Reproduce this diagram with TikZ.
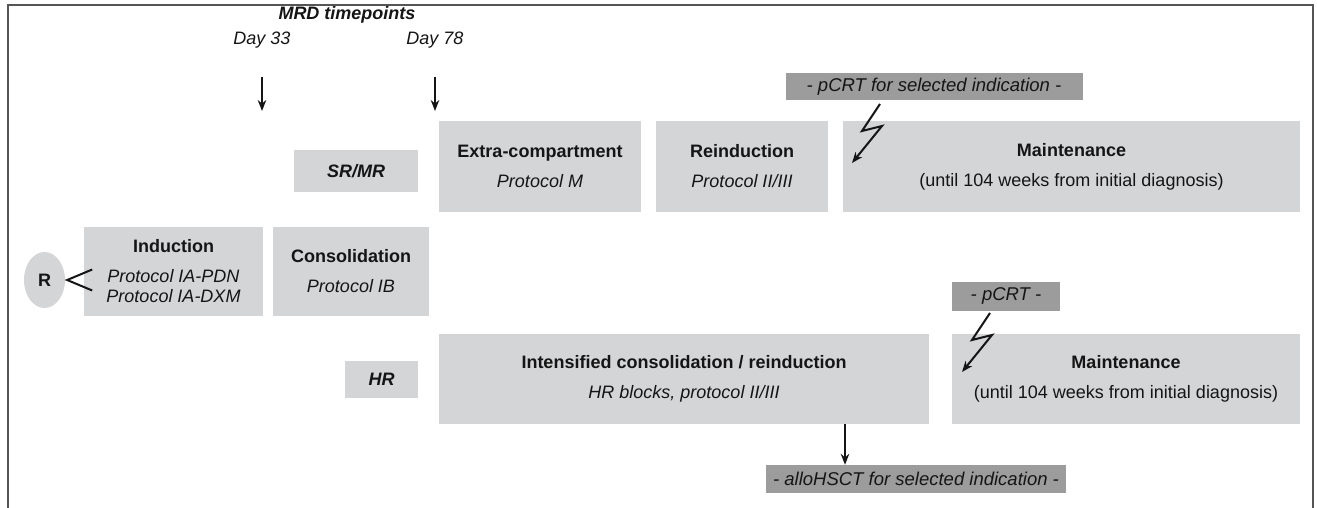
\documentclass[tikz,border=0pt]{standalone}
\usepackage{fontspec}
\setmainfont{Liberation Sans}
\usetikzlibrary{arrows.meta,calc,shapes.geometric}
\definecolor{boxgray}{HTML}{D4D5D7}
\definecolor{darkbox}{HTML}{9C9C9C}
\definecolor{framegray}{HTML}{555555}
\definecolor{txt}{HTML}{151515}
\begin{document}
\begin{tikzpicture}[x=1pt,y=-1pt,
  lbox/.style={fill=boxgray, inner sep=0pt, align=center, text=txt, font=\fontsize{18}{20}\selectfont},
  dbox/.style={fill=darkbox, inner sep=0pt, align=center, text=txt, font=\fontsize{18.5}{20}\selectfont\itshape},
  plain/.style={inner sep=0pt, text=txt, font=\fontsize{18}{20}\selectfont},
  arr/.style={-{Stealth[length=11pt,width=8.5pt]}, line width=1.9pt, draw=txt},
  zig/.style={-{Stealth[length=11pt,width=8.5pt]}, line width=2pt, draw=txt, line join=miter},
]
\useasboundingbox (0,0) rectangle (1317,508);
\draw[framegray, line width=2pt] (8,508) -- (8,5) -- (1313,5) -- (1313,508);

% header
\node[plain, font=\fontsize{18}{20}\selectfont\bfseries\itshape] (mrd) at (347,15) {MRD timepoints};
\node[plain, font=\fontsize{18}{20}\selectfont\itshape] (d33) at (262,40) {Day 33};
\node[plain, font=\fontsize{18}{20}\selectfont\itshape] (d78) at (435,40) {Day 78};
\coordinate (d33a) at (262,77);
\coordinate (d78a) at (435,77);
\draw[arr] (d33a) -- ++(0,34);
\draw[arr] (d78a) -- ++(0,34);

% SR/MR row
\node[lbox, minimum width=124pt, minimum height=42pt, font=\fontsize{18}{20}\selectfont\bfseries\itshape] (srmr) at (356,171) {SR/MR};
\node[lbox, minimum width=202pt, minimum height=91pt] (extra) at (540,166.5) {\textbf{Extra-compartment}\\[10pt]\textit{Protocol M}};
\node[lbox, minimum width=172pt, minimum height=91pt] (reind) at (742,166.5) {\textbf{Reinduction}\\[10pt]\textit{Protocol II/III}};
\node[lbox, minimum width=457pt, minimum height=91pt] (maint1) at (1071.5,166.5) {\textbf{Maintenance}\\[10pt](until 104 weeks from initial diagnosis)};
\node[dbox, minimum width=297pt, minimum height=27pt] (pcrt1) at (934,86.5) {- pCRT for selected indication -};
\coordinate (z1) at (880,104);
\draw[zig] (z1) -- ++(-18,27) -- ++(20,-5) -- ++(-30,37);

% induction row
\node[ellipse, fill=boxgray, minimum width=41pt, minimum height=56pt, inner sep=0pt, text=txt, font=\fontsize{18}{20}\selectfont\bfseries] (R) at (44.5,280) {R};
\node[lbox, minimum width=179pt, minimum height=89pt] (ind) at (173.5,271.5) {\textbf{Induction}\\[10pt]\textit{Protocol IA-PDN}\\\textit{Protocol IA-DXM}};
\node[lbox, minimum width=156pt, minimum height=89pt] (cons) at (351,271.5) {\textbf{Consolidation}\\[10pt]\textit{Protocol IB}};
\draw[line width=2pt, draw=txt] ($(R.east)+(27,-10.5)$) -- ($(R.east)+(2,0)$) -- ($(R.east)+(27,10.5)$);

% HR row
\node[lbox, minimum width=73pt, minimum height=37pt, font=\fontsize{18}{20}\selectfont\bfseries\itshape] (hr) at (381.5,379.5) {HR};
\node[lbox, minimum width=490pt, minimum height=90pt] (intens) at (684,379) {\textbf{Intensified consolidation / reinduction}\\[10pt]\textit{HR blocks, protocol II/III}};
\node[lbox, minimum width=348pt, minimum height=90pt] (maint2) at (1126,379) {\textbf{Maintenance}\\[10pt](until 104 weeks from initial diagnosis)};
\node[dbox, minimum width=108pt, minimum height=29pt] (pcrt2) at (1006,296) {- pCRT -};
\coordinate (z2) at (990,313);
\draw[zig] (z2) -- ++(-18,27) -- ++(20,-5) -- ++(-30,37);

\node[dbox, minimum width=300pt, minimum height=28pt] (allo) at (916,479) {- alloHSCT for selected indication -};
\coordinate (a1) at (845,424);
\draw[arr] (a1) -- (a1 |- allo.north);
\end{tikzpicture}
\end{document}
